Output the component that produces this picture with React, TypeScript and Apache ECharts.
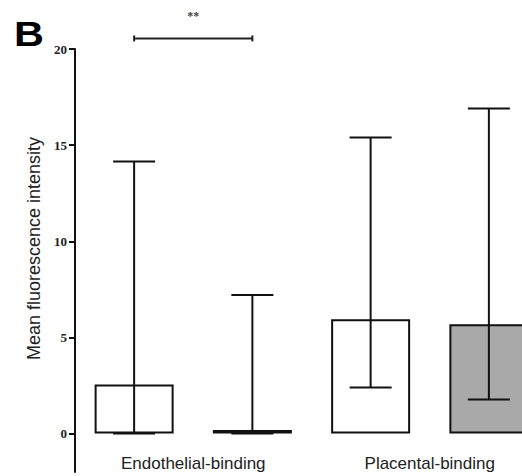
import React, { useEffect, useRef } from "react";
import * as echarts from "echarts";

const barLabels = ["Endothelial-binding A", "Endothelial-binding B", "Placental-binding A", "Placental-binding B"];
const groupLabels = ["Endothelial-binding", "Placental-binding"];
const barValues = [2.55, 0.18, 5.95, 5.68];
const errLow = [0, 0, 2.4, 1.77];
const errHigh = [14.15, 7.2, 15.4, 16.9];
const barColors = ["#ffffff", "#111111", "#ffffff", "#a9a9a9"];
const yTicks = [0, 5, 10, 15, 20];
const bracket = [[0, 1, 20.55]];
const bracketLabel = "**";

export default function App() {
  const ref = useRef<HTMLDivElement>(null);
  useEffect(() => {
    if (!ref.current) return;
    const chart = echarts.init(ref.current, undefined, { renderer: "svg" });
    const lineStyle = { stroke: "#111", lineWidth: 2 };
    chart.setOption({
      animation: false,
      backgroundColor: "#ffffff",
      grid: { left: 75, right: 0, top: 49, bottom: 4, containLabel: false },
      xAxis: [
        {
          type: "category",
          data: barLabels,
          position: "bottom",
          axisLine: { show: false },
          axisTick: { show: false },
          axisLabel: { show: false },
        },
        {
          type: "category",
          data: groupLabels,
          position: "bottom",
          offset: -17,
          axisLine: { show: false },
          axisTick: { show: false },
          axisLabel: {
            show: true,
            margin: 0,
            fontFamily: "Liberation Sans",
            fontSize: 17,
            color: "#222",
          },
        },
      ],
      yAxis: {
        type: "value",
        min: -2,
        max: 20,
        splitLine: { show: false },
        axisLine: { show: true, lineStyle: { color: "#111", width: 2 } },
        axisTick: { show: true, length: 6, lineStyle: { color: "#111", width: 2 }, customValues: yTicks },
        axisLabel: {
          show: true,
          margin: 8,
          customValues: yTicks,
          fontFamily: "Liberation Serif",
          fontWeight: "bold",
          fontSize: 13,
          color: "#222",
        },
        name: "Mean fluorescence intensity",
        nameLocation: "middle",
        nameGap: 31,
        nameTextStyle: {
          fontFamily: "Liberation Sans",
          fontSize: 18,
          color: "#222",
          padding: [0, 0, 0, 24],
        },
      },
      series: [
        {
          type: "bar",
          xAxisIndex: 0,
          barWidth: 79,
          data: barValues.map((v, i) => ({
            value: v,
            itemStyle: { color: barColors[i], borderColor: "#111", borderWidth: 2 },
          })),
          z: 2,
        },
        {
          type: "custom",
          xAxisIndex: 0,
          z: 3,
          clip: false,
          encode: { x: 0, y: [1, 2] },
          data: barValues.map((_, i) => [i, errLow[i], errHigh[i]]),
          renderItem: (params: any, api: any) => {
            const x = api.value(0);
            const pLo = api.coord([x, api.value(1)]);
            const pHi = api.coord([x, api.value(2)]);
            const half = 21;
            return {
              type: "group",
              children: [
                { type: "line", shape: { x1: pLo[0], y1: pLo[1], x2: pHi[0], y2: pHi[1] }, style: lineStyle },
                { type: "line", shape: { x1: pHi[0] - half, y1: pHi[1], x2: pHi[0] + half, y2: pHi[1] }, style: lineStyle },
                { type: "line", shape: { x1: pLo[0] - half, y1: pLo[1], x2: pLo[0] + half, y2: pLo[1] }, style: lineStyle },
              ],
            };
          },
        },
        {
          type: "custom",
          xAxisIndex: 0,
          z: 3,
          clip: false,
          encode: { x: [0, 1], y: 2 },
          data: bracket,
          renderItem: (params: any, api: any) => {
            const p1 = api.coord([api.value(0), api.value(2)]);
            const p2 = api.coord([api.value(1), api.value(2)]);
            const ls = { stroke: "#222", lineWidth: 2 };
            return {
              type: "group",
              children: [
                { type: "line", shape: { x1: p1[0], y1: p1[1], x2: p2[0], y2: p2[1] }, style: ls },
                { type: "line", shape: { x1: p1[0], y1: p1[1] - 3, x2: p1[0], y2: p1[1] + 3 }, style: ls },
                { type: "line", shape: { x1: p2[0], y1: p2[1] - 3, x2: p2[0], y2: p2[1] + 3 }, style: ls },
                {
                  type: "text",
                  x: (p1[0] + p2[0]) / 2,
                  y: p1[1] - 22,
                  style: {
                    text: bracketLabel,
                    fontFamily: "Liberation Serif",
                    fontWeight: "bold",
                    fontSize: 12,
                    fill: "#444",
                    align: "center",
                    verticalAlign: "middle",
                  },
                },
              ],
            };
          },
        },
      ],
      graphic: [
        {
          type: "text",
          left: 14,
          top: 15,
          scaleX: 1.15,
          style: { text: "B", fontFamily: "Liberation Sans", fontWeight: "bold", fontSize: 36, fill: "#000" },
        },
      ],
    });
    return () => chart.dispose();
  }, []);
  return (
    <div style={{ position: "absolute", left: 0, top: 0, width: 522, height: 476, overflow: "hidden" }}>
      <div ref={ref} style={{ width: 548, height: 476 }} />
    </div>
  );
}
